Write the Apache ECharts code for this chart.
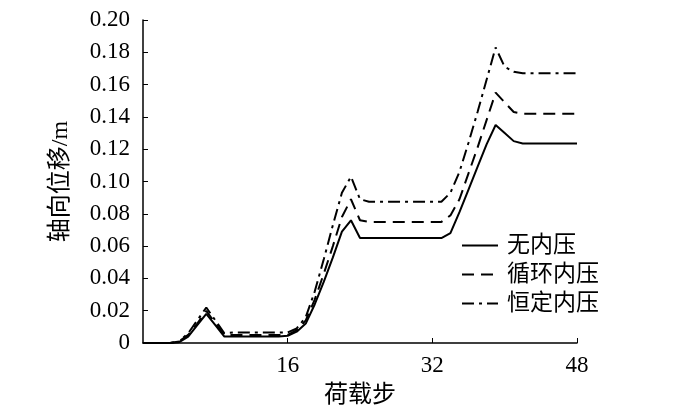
<!DOCTYPE html>
<html>
<head>
<meta charset="utf-8">
<script src="https://cdn.jsdelivr.net/npm/echarts@6/dist/echarts.min.js"></script>
<style>
  html, body { margin: 0; padding: 0; background: #fff; }
  #chart { width: 700px; height: 420px; }
</style>
</head>
<body>
<div id="chart"></div>
<script>
const steps = [0, 1, 2, 3, 4, 5, 6, 7, 8, 9, 10, 11, 12, 13, 14, 15, 16,
  17, 18, 19, 20, 21, 22, 23, 24, 25, 26, 27, 28, 29, 30, 31, 32,
  33, 34, 35, 36, 37, 38, 39, 40, 41, 42, 43, 44, 45, 46, 47, 48];

// 无内压
const noPressure = [0, 0, 0, 0, 0.0005, 0.004, 0.011, 0.018, 0.011, 0.004, 0.004, 0.004, 0.004, 0.004, 0.004, 0.004, 0.0045,
  0.007, 0.012, 0.024, 0.038, 0.053, 0.069, 0.076, 0.065, 0.065, 0.065, 0.065, 0.065, 0.065, 0.065, 0.065, 0.065,
  0.065, 0.068, 0.081, 0.095, 0.109, 0.123, 0.135, 0.130, 0.125, 0.1235, 0.1235, 0.1235, 0.1235, 0.1235, 0.1235, 0.1235];

// 循环内压
const cyclicPressure = [0, 0, 0, 0, 0.001, 0.005, 0.012, 0.020, 0.012, 0.005, 0.005, 0.005, 0.005, 0.005, 0.005, 0.005, 0.005,
  0.008, 0.014, 0.027, 0.043, 0.060, 0.078, 0.089, 0.076, 0.075, 0.075, 0.075, 0.075, 0.075, 0.075, 0.075, 0.075,
  0.075, 0.079, 0.089, 0.105, 0.121, 0.138, 0.155, 0.149, 0.143, 0.142, 0.142, 0.142, 0.142, 0.142, 0.142, 0.142];

// 恒定内压
const constPressure = [0, 0, 0, 0, 0.001, 0.006, 0.014, 0.022, 0.014, 0.006, 0.0065, 0.0065, 0.0065, 0.0065, 0.0065, 0.0065, 0.0065,
  0.009, 0.016, 0.032, 0.052, 0.073, 0.093, 0.103, 0.089, 0.0875, 0.0875, 0.0875, 0.0875, 0.0875, 0.0875, 0.0875, 0.0875,
  0.0875, 0.093, 0.106, 0.124, 0.143, 0.163, 0.183, 0.171, 0.168, 0.167, 0.167, 0.167, 0.167, 0.167, 0.167, 0.167];

const seriesNames = ['无内压', '循环内压', '恒定内压'];
const lineTypes = ['solid', [12, 7], [12, 5, 3, 5]];

const font = '"Liberation Serif", "Noto Sans CJK SC", serif';

function pairs(vals) {
  return steps.map((s, i) => [s, vals[i]]);
}

const chart = echarts.init(document.getElementById('chart'));
const option = {
  animation: false,
  backgroundColor: '#fff',
  grid: { left: 143, right: 123, top: 20, bottom: 77 },
  legend: {
    orient: 'vertical',
    left: 456,
    top: 229,
    itemWidth: 36,
    itemHeight: 14,
    itemGap: 6,
    itemStyle: { opacity: 0 },
    textStyle: { fontFamily: font, fontSize: 23, color: '#000', padding: [0, 0, 0, 4] },
    data: seriesNames
  },
  xAxis: {
    type: 'value',
    min: 0,
    max: 48,
    interval: 16,
    name: '荷载步',
    nameLocation: 'middle',
    nameGap: 41,
    nameTextStyle: { fontFamily: font, fontSize: 24, color: '#000' },
    axisLine: { lineStyle: { color: '#000', width: 1.5 } },
    axisTick: { inside: true, length: 5, lineStyle: { color: '#000' } },
    axisLabel: {
      showMinLabel: false,
      margin: 11,
      fontFamily: font, fontSize: 23, color: '#000'
    },
    splitLine: { show: false }
  },
  yAxis: {
    type: 'value',
    min: 0,
    max: 0.2,
    interval: 0.02,
    name: '轴向位移/m',
    nameLocation: 'middle',
    nameGap: 70,
    nameTextStyle: { fontFamily: font, fontSize: 24, color: '#000' },
    axisLine: { show: true, lineStyle: { color: '#000', width: 1.5 } },
    axisTick: { show: true, inside: true, length: 5, lineStyle: { color: '#000' } },
    axisLabel: {
      margin: 13,
      fontFamily: font, fontSize: 23, color: '#000',
      formatter: v => (v === 0 ? '0' : v.toFixed(2))
    },
    splitLine: { show: false }
  },
  series: [noPressure, cyclicPressure, constPressure].map((vals, i) => ({
    name: seriesNames[i],
    type: 'line',
    data: pairs(vals),
    showSymbol: false,
    symbol: 'none',
    color: '#000',
    lineStyle: { color: '#000', width: 2, type: lineTypes[i] }
  }))
};
chart.setOption(option);
</script>
</body>
</html>
